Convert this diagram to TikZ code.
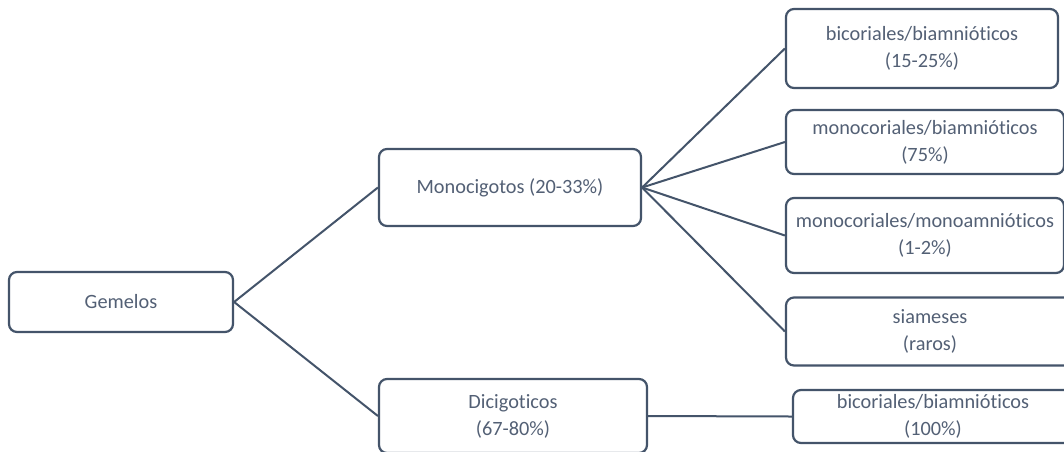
\documentclass[tikz,border=0pt]{standalone}
\usepackage{fontspec}
\setmainfont{Carlito}[Ligatures={NoCommon,NoRare}]
\definecolor{edgec}{HTML}{44546A}
\definecolor{textc}{HTML}{536075}
\begin{document}
\begin{tikzpicture}[x=1pt,y=-1pt,
  box/.style={draw=edgec, line width=2.2pt, rounded corners=8pt, fill=white,
    text=textc, align=center, inner sep=0pt,
    font=\fontsize{20.3}{27}\selectfont},
  conn/.style={draw=edgec, line width=2pt}]
\useasboundingbox (0,0) rectangle (1064,451);
\clip (0,0) rectangle (1064,451);
\fill[white] (0,0) rectangle (1064,451);
% nodes
\node[box, minimum width=224, minimum height=60] (gem) at (121,302) {Gemelos};
\node[box, minimum width=262, minimum height=77] (mono) at (510,187.5) {Monocigotos (20-33\%)};
\node[box, minimum width=268, minimum height=74] (di) at (513,416) {Dicigoticos\\(67-80\%)};
\node[box, minimum width=272, minimum height=79] (bb) at (922,48.5) {bicoriales/biamnióticos\\(15-25\%)};
\node[box, minimum width=278, minimum height=64] (mb) at (925,142) {monocoriales/biamnióticos\\(75\%)};
\node[box, minimum width=278, minimum height=75] (mm) at (925,235.5) {monocoriales/monoamnióticos\\(1-2\%)};
\node[box, minimum width=288, minimum height=68] (si) at (930,331.5) {siameses\\(raros)};
\node[box, minimum width=280, minimum height=53] (bd) at (933,416.5) {bicoriales/biamnióticos\\(100\%)};
% connectors
\draw[conn] (gem.east) -- (mono.west);
\draw[conn] (gem.east) -- (di.west);
\draw[conn] (mono.east) -- (bb.west);
\draw[conn] (mono.east) -- (mb.west);
\draw[conn] (mono.east) -- (mm.west);
\draw[conn] (mono.east) -- (si.west);
\draw[conn] (di.east) -- (bd.west);
\end{tikzpicture}
\end{document}
